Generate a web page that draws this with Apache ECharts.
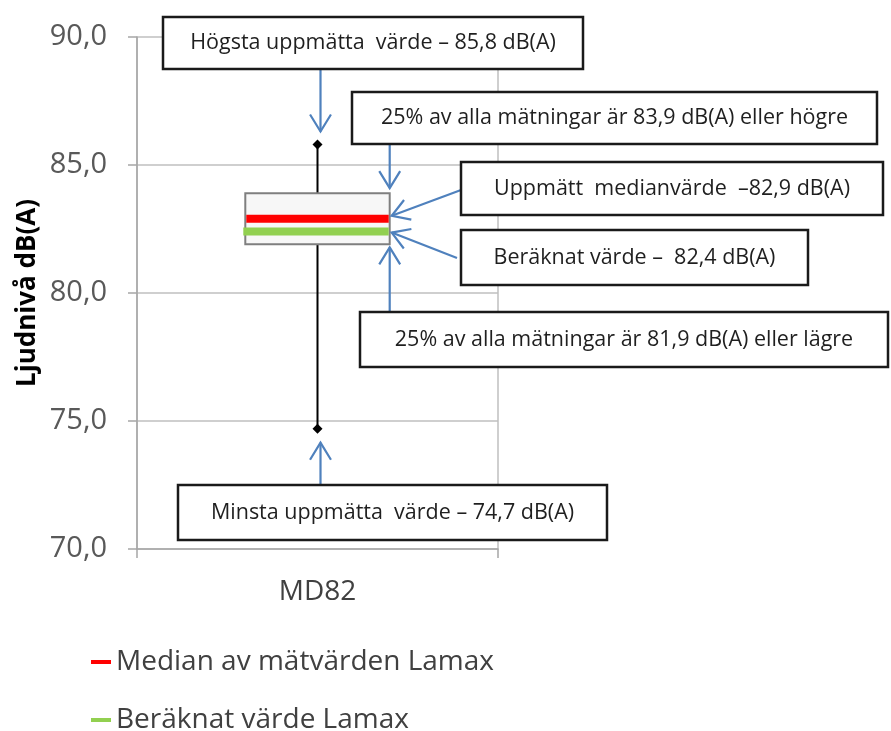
<!DOCTYPE html>
<html>
<head>
<meta charset="utf-8">
<title>Ljudnivå MD82</title>
<script src="https://cdn.jsdelivr.net/npm/echarts@6/dist/echarts.min.js"></script>
<style>
  html, body { margin: 0; padding: 0; background: #fff; }
  #chart { width: 891px; height: 731px; }
</style>
</head>
<body>
<div id="chart"></div>
<script>
// data
const categories = ['MD82']
const minValues = [74.7]
const q1Values = [81.9]
const medianValues = [82.9]
const q3Values = [83.9]
const maxValues = [85.8]
const calcValues = [82.4]
const yTicks = [70, 75, 80, 85, 90]

const medianName = 'Median av mätvärden Lamax'
const calcName = 'Beräknat värde Lamax'

const FONT = '"Open Sans", "Noto Sans", sans-serif'
const BOX_RATIO = 0.4
const fmt = v => v.toFixed(1).replace('.', ',')

const chart = echarts.init(document.getElementById('chart'))

// box + whiskers
const renderBox = (params, api) => {
  const i = api.value(0)
  const pMin = api.coord([i, api.value(1)])
  const pQ1 = api.coord([i, api.value(2)])
  const pQ3 = api.coord([i, api.value(3)])
  const pMax = api.coord([i, api.value(4)])
  const bw = api.size([1, 0])[0] * BOX_RATIO
  const cx = pMin[0]
  const diamond = (p) => ({
    type: 'polygon',
    shape: { points: [[p[0], p[1] - 5], [p[0] + 5, p[1]], [p[0], p[1] + 5], [p[0] - 5, p[1]]] },
    style: { fill: '#000' }
  })
  return {
    type: 'group',
    children: [
      { type: 'line', shape: { x1: cx, y1: pMax[1], x2: cx, y2: pMin[1] }, style: { stroke: '#000', lineWidth: 2 } },
      {
        type: 'rect',
        shape: { x: cx - bw / 2, y: pQ3[1], width: bw, height: pQ1[1] - pQ3[1] },
        style: { fill: '#f7f7f7', stroke: '#7f7f7f', lineWidth: 2 }
      },
      diamond(pMax),
      diamond(pMin)
    ]
  }
}

// thick horizontal line across the box
const makeBar = (extraLeft) => (params, api) => {
  const i = api.value(0)
  const p = api.coord([i, api.value(1)])
  const bw = api.size([1, 0])[0] * BOX_RATIO
  return {
    type: 'rect',
    shape: { x: p[0] - bw / 2 + 1 - extraLeft, y: p[1] - 4, width: bw - 2 + extraLeft, height: 8 },
    style: { fill: api.visual('color') }
  }
}

const legendBase = {
  left: 86,
  itemWidth: 20,
  itemHeight: 4,
  icon: 'rect',
  textStyle: { fontSize: 28, color: '#404040', lineHeight: 24, fontFamily: FONT }
}

const option = {
  animation: false,
  backgroundColor: '#fff',
  textStyle: { fontFamily: FONT },
  grid: { left: 137, right: 393, top: 37, bottom: 182, outerBoundsMode: 'none' },
  legend: [
    { ...legendBase, data: [medianName], top: 643 },
    { ...legendBase, data: [calcName], top: 701 }
  ],
  xAxis: {
    type: 'category',
    data: categories,
    boundaryGap: true,
    axisLine: { lineStyle: { color: '#a6a6a6', width: 1.5 } },
    axisTick: { show: true, length: 9, lineStyle: { color: '#a6a6a6', width: 1.5 } },
    splitLine: { show: true, lineStyle: { color: '#bfbfbf', width: 1.5 } },
    axisLabel: { fontSize: 28, color: '#404040', margin: 29, fontFamily: FONT }
  },
  yAxis: {
    type: 'value',
    min: yTicks[0],
    max: yTicks[yTicks.length - 1],
    interval: yTicks[1] - yTicks[0],
    name: 'Ljudnivå dB(A)',
    nameLocation: 'middle',
    nameGap: 96,
    nameTextStyle: { fontSize: 26, fontWeight: 'bold', color: '#000', fontFamily: FONT },
    axisLine: { show: true, lineStyle: { color: '#a6a6a6', width: 1.5 } },
    axisTick: { show: true, length: 9, lineStyle: { color: '#a6a6a6', width: 1.5 } },
    splitLine: { lineStyle: { color: '#bfbfbf', width: 1.5 } },
    axisLabel: { fontSize: 29, color: '#595959', margin: 30, formatter: fmt, fontFamily: FONT }
  },
  series: [
    {
      name: 'box',
      type: 'custom',
      renderItem: renderBox,
      data: categories.map((c, i) => [i, minValues[i], q1Values[i], q3Values[i], maxValues[i]]),
      z: 2
    },
    {
      name: medianName,
      type: 'custom',
      itemStyle: { color: '#ff0000' },
      renderItem: makeBar(0),
      data: categories.map((c, i) => [i, medianValues[i]]),
      z: 3
    },
    {
      name: calcName,
      type: 'custom',
      itemStyle: { color: '#92d050' },
      renderItem: makeBar(3),
      data: categories.map((c, i) => [i, calcValues[i]]),
      z: 3
    }
  ]
}

chart.setOption(option)

// annotations (positions are layout only, arrow tips follow the data)
const px = (v) => chart.convertToPixel({ gridIndex: 0 }, [0, v])
const cx = px(maxValues[0])[0]
const bandWidth = (891 - 137 - 393) / categories.length
const boxRight = cx + bandWidth * BOX_RATIO / 2

const ARROW = '#4f81bd'
const arrow = (x1, y1, x2, y2) => {
  const a = Math.atan2(y2 - y1, x2 - x1)
  const L = 20
  const t = 0.55
  const h1 = [x2 - L * Math.cos(a - t), y2 - L * Math.sin(a - t)]
  const h2 = [x2 - L * Math.cos(a + t), y2 - L * Math.sin(a + t)]
  return [
    { type: 'polyline', shape: { points: [[x1, y1], [x2, y2]] }, style: { stroke: ARROW, lineWidth: 2.2 }, z: 10 },
    { type: 'polyline', shape: { points: [h1, [x2, y2], h2] }, style: { stroke: ARROW, lineWidth: 2.2, fill: null }, z: 10 }
  ]
}

const noteBox = (x, y, w, h, text) => [
  { type: 'rect', shape: { x, y, width: w, height: h }, style: { fill: '#fff', stroke: '#1a1a1a', lineWidth: 2.5 }, z: 20 },
  {
    type: 'text', x: x + w / 2, y: y + h / 2, z: 21,
    style: { text, fill: '#1f1f1f', font: '21.5px ' + FONT, align: 'center', verticalAlign: 'middle' }
  }
]

const notes = [
  ...noteBox(163, 17, 420, 52, 'Högsta uppmätta  värde – ' + fmt(maxValues[0]) + ' dB(A)'),
  ...noteBox(352, 92, 525, 52, '25% av alla mätningar är ' + fmt(q3Values[0]) + ' dB(A) eller högre'),
  ...noteBox(461, 162, 422, 53, 'Uppmätt  medianvärde  –' + fmt(medianValues[0]) + ' dB(A)'),
  ...noteBox(461, 230, 347, 55, 'Beräknat värde –  ' + fmt(calcValues[0]) + ' dB(A)'),
  ...noteBox(360, 312, 528, 55, '25% av alla mätningar är ' + fmt(q1Values[0]) + ' dB(A) eller lägre'),
  ...noteBox(178, 485, 429, 55, 'Minsta uppmätta  värde – ' + fmt(minValues[0]) + ' dB(A)')
]

const arrows = [
  ...arrow(cx + 3, 69, cx + 3, px(maxValues[0])[1] - 13),
  ...arrow(boxRight, 144, boxRight, px(q3Values[0])[1] - 5),
  ...arrow(461, 190, boxRight + 2, px(medianValues[0])[1] - 3),
  ...arrow(457, 258, boxRight + 2, px(calcValues[0])[1] + 1),
  ...arrow(boxRight, 312, boxRight, px(q1Values[0])[1] + 3),
  ...arrow(cx + 3, 485, cx + 3, px(minValues[0])[1] + 14)
]

chart.setOption({ graphic: { elements: [...arrows, ...notes] } })
</script>
</body>
</html>
